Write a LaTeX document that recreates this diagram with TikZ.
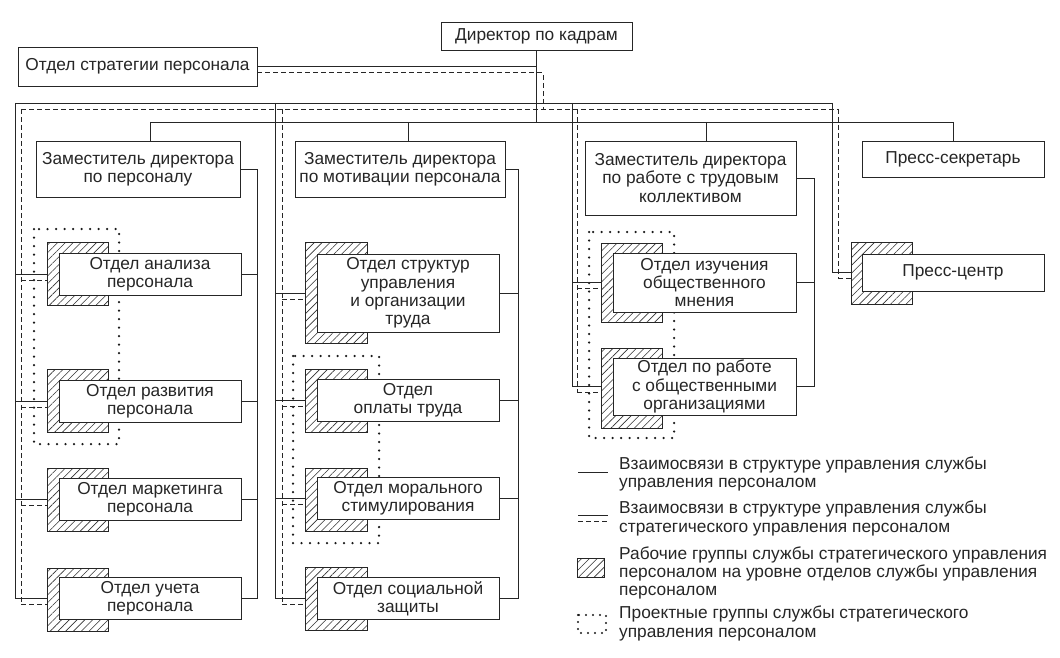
\documentclass[tikz,border=0pt]{standalone}
\usepackage{fontspec}
\setmainfont{Liberation Sans}
\usetikzlibrary{patterns.meta,calc}
\newcommand\myconn[5]{%
  \draw[sol] (#3 |- #1) -- (#2.west |- #1);
  \draw[dsh] ($(#4 |- #1)+(0,6)$) -- ($(#2.west |- #1)+(0,6)$);
  \draw[sol] (#1.east) -- (#5 |- #1);}
\begin{document}
\begin{tikzpicture}[x=1pt,y=-1pt,
  every node/.style={font=\fontsize{17.3}{18.2}\selectfont, text=black!85},
  box/.style={draw=black!85, fill=white, line width=0.8pt, align=center, inner sep=0pt},
  hatchbox/.style={draw=black!85, line width=0.8pt, inner sep=0pt,
     preaction={fill=white}, pattern={Lines[angle=45,distance=5.5pt,line width=0.6pt]}, pattern color=black!80},
  sol/.style={draw=black!85, line width=0.8pt},
  dsh/.style={draw=black!85, line width=0.8pt, dash pattern=on 5pt off 3pt},
  dotgrp/.style={draw=black!90, line width=2.5pt, line cap=round, dash pattern=on 0pt off 8.5pt},
  legtext/.style={anchor=west, align=left, inner sep=0pt}]
\path[use as bounding box] (0,0) rectangle (1060,658);

% ---- coordinates of the connector frames
\coordinate (sA) at (15,103);  \coordinate (sB) at (275,103);
\coordinate (sC) at (572,103); \coordinate (sD) at (832,103);
\coordinate (dA) at (21,109);  \coordinate (dB) at (282,109);
\coordinate (dC) at (577,109); \coordinate (dD) at (838,109);
\coordinate (dj) at (543,109);
\coordinate (rA) at (257,169); \coordinate (rB) at (518,169); \coordinate (rC) at (814,178);
\coordinate (bA) at (150,122); \coordinate (bB) at (408,122);
\coordinate (bC) at (706,122); \coordinate (bD) at (953,122);

% ---- top level
\node[box, minimum width=191pt, minimum height=28pt] (dir) at (536.5,36) {Директор по кадрам};
\node[box, minimum width=239pt, minimum height=39pt] (strat) at (137.5,66.5) {Отдел стратегии персонала};
\node[box, minimum width=204pt, minimum height=56pt] (dep1) at (138,169) {Заместитель директора\\по персоналу};
\node[box, minimum width=210pt, minimum height=56pt] (dep2) at (400,169) {Заместитель директора\\по мотивации персонала};
\node[box, minimum width=211pt, minimum height=74pt] (dep3) at (690.5,178) {Заместитель директора\\по работе с трудовым\\коллективом};
\node[box, minimum width=182pt, minimum height=36pt] (press) at (953,159) {Пресс-секретарь};

% ---- top connectors
\draw[sol] (strat.east) -- (strat.east -| dir.south);
\draw[dsh] ($(strat.east)+(0,6)$) -| (dj);
\draw[sol] (dir.south) -- (dir.south |- bA);
\draw[sol] (bA) -- (bD);
\draw[sol] (bA) -- (bA |- dep1.north);
\draw[sol] (bB) -- (bB |- dep2.north);
\draw[sol] (bC) -- (bC |- dep3.north);
\draw[sol] (bD) -- (press.north);
\draw[sol] (sA) -- (sD);
\draw[dsh] (dA) -- (dD);

% ---- project groups (dotted)
\draw[dotgrp] (34,229) rectangle (119,444);
\draw[dotgrp] (293,356) rectangle (379,543);
\draw[dotgrp] (589,232) rectangle (674,438);

% ---- column 1
\node[hatchbox, minimum width=61pt, minimum height=63pt] (ha1) at (77.5,273.5) {};
\node[box, minimum width=182pt, minimum height=42pt] (a1) at (150,274) {Отдел анализа\\персонала};
\node[hatchbox, minimum width=61pt, minimum height=63pt] (ha2) at (77.5,400.5) {};
\node[box, minimum width=182pt, minimum height=42pt] (a2) at (150,401) {Отдел развития\\персонала};
\node[hatchbox, minimum width=61pt, minimum height=63pt] (ha3) at (77.5,499.5) {};
\node[box, minimum width=182pt, minimum height=42pt] (a3) at (150,499.5) {Отдел маркетинга\\персонала};
\node[hatchbox, minimum width=61pt, minimum height=63pt] (ha4) at (77.5,599.5) {};
\node[box, minimum width=182pt, minimum height=42pt] (a4) at (150,598.5) {Отдел учета\\персонала};

% ---- column 2
\node[hatchbox, minimum width=62pt, minimum height=101pt] (hb1) at (336,292.5) {};
\node[box, minimum width=182pt, minimum height=78pt] (b1) at (408,293) {Отдел структур\\управления\\и организации\\труда};
\node[hatchbox, minimum width=62pt, minimum height=63pt] (hb2) at (336,400.5) {};
\node[box, minimum width=182pt, minimum height=42pt] (b2) at (408,400.5) {Отдел\\оплаты труда};
\node[hatchbox, minimum width=62pt, minimum height=63pt] (hb3) at (336,499.5) {};
\node[box, minimum width=182pt, minimum height=42pt] (b3) at (408,498.5) {Отдел морального\\стимулирования};
\node[hatchbox, minimum width=62pt, minimum height=63pt] (hb4) at (336,598.5) {};
\node[box, minimum width=182pt, minimum height=42pt] (b4) at (408,598.5) {Отдел социальной\\защиты};

% ---- column 3
\node[hatchbox, minimum width=61pt, minimum height=79pt] (hc1) at (631.5,282.5) {};
\node[box, minimum width=183pt, minimum height=59pt] (c1) at (704.5,282.5) {Отдел изучения\\общественного\\мнения};
\node[hatchbox, minimum width=61pt, minimum height=80pt] (hc2) at (631.5,388) {};
\node[box, minimum width=183pt, minimum height=57pt] (c2) at (704.5,386.5) {Отдел по работе\\с общественными\\организациями};

% ---- press centre
\node[hatchbox, minimum width=61pt, minimum height=62pt] (hpc) at (881.5,273) {};
\node[box, minimum width=182pt, minimum height=37pt] (pc) at (953,272.5) {Пресс-центр};

% ---- vertical buses
\draw[sol] (sA) -- (sA |- a4);
\draw[sol] (sB) -- (sB |- b4);
\draw[sol] (sC) -- (sC |- c2);
\draw[sol] (sD) -- (sD |- pc);
\draw[dsh] (dA) -- ($(dA |- a4)+(0,6)$);
\draw[dsh] (dB) -- ($(dB |- b4)+(0,6)$);
\draw[dsh] (dC) -- ($(dC |- c2)+(0,6)$);
\draw[dsh] (dD) -- ($(dD |- pc)+(0,6)$);
\draw[sol] (dep1.east) -- (rA) -- (rA |- a4);
\draw[sol] (dep2.east) -- (rB) -- (rB |- b4);
\draw[sol] (dep3.east) -- (rC) -- (rC |- c2);

% ---- department connectors
\myconn{a1}{ha1}{sA}{dA}{rA}
\myconn{a2}{ha2}{sA}{dA}{rA}
\myconn{a3}{ha3}{sA}{dA}{rA}
\myconn{a4}{ha4}{sA}{dA}{rA}
\myconn{b1}{hb1}{sB}{dB}{rB}
\myconn{b2}{hb2}{sB}{dB}{rB}
\myconn{b3}{hb3}{sB}{dB}{rB}
\myconn{b4}{hb4}{sB}{dB}{rB}
\myconn{c1}{hc1}{sC}{dC}{rC}
\myconn{c2}{hc2}{sC}{dC}{rC}
\draw[sol] (sD |- pc) -- (hpc.west |- pc);
\draw[dsh] ($(dD |- pc)+(0,6)$) -- ($(hpc.west |- pc)+(0,6)$);

% ---- legend
\draw[sol] (578,472) -- (608,472);
\node[legtext] (l1) at (619,474) {Взаимосвязи в структуре управления службы\\управления персоналом};
\draw[sol] (578,515) -- (608,515);
\draw[dsh] (578,521) -- (608,521);
\node[legtext] (l2) at (619,518.5) {Взаимосвязи в структуре управления службы\\стратегического управления персоналом};
\node[hatchbox, minimum width=27pt, minimum height=19pt] (lh) at (591,567.5) {};
\node[legtext] (l3) at (619,573) {Рабочие группы службы стратегического управления\\персоналом на уровне отделов службы управления\\персоналом};
\draw[dotgrp, line width=2.2pt, dash pattern=on 0pt off 7pt] (578,615) rectangle (606,633);
\node[legtext] (l4) at (619,623.5) {Проектные группы службы стратегического\\управления персоналом};
\end{tikzpicture}
\end{document}
